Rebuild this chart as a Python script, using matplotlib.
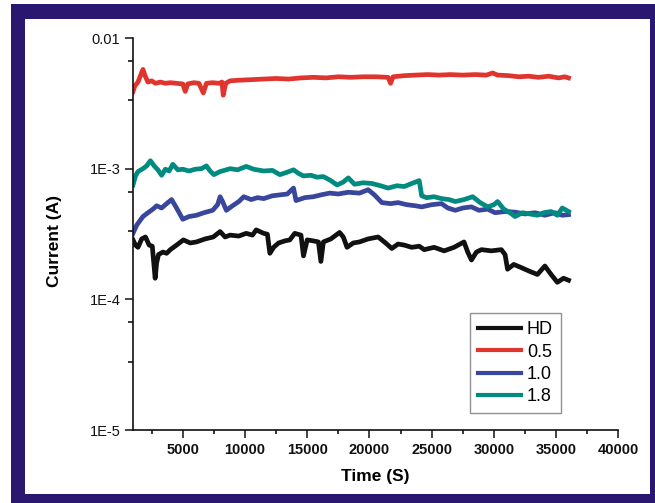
import numpy as np
import matplotlib
matplotlib.use("Agg")
import matplotlib.pyplot as plt
from matplotlib.patches import Rectangle
from matplotlib.ticker import FixedLocator, FixedFormatter, NullFormatter

plt.rcParams['font.family'] = ['Liberation Sans', 'DejaVu Sans']

# ---- data (time in s, current in A) ----
series_names = ["HD", "0.5", "1.0", "1.8"]
series_colors = ["#111111", "#e0342f", "#38469c", "#008a80"]

t_hd = [1000, 1200, 1400, 1700, 2000, 2300, 2550, 2780, 2900, 3050, 3400, 3700,
        4000, 4500, 5050, 5600, 6100, 6800, 7450, 8000, 8400, 8800, 9500, 10100,
        10600, 10900, 11500, 11800, 12000, 12300, 12700, 13200, 13600, 14000,
        14500, 14700, 15000, 15500, 15900, 16100, 16300, 16900, 17600, 17900,
        18200, 18700, 19200, 19900, 20700, 21300, 21800, 22300, 22800, 23400,
        24000, 24400, 25200, 26000, 26800, 27600, 27900, 28200, 28600, 29000,
        29800, 30600, 30900, 31100, 31600, 32200, 32800, 33500, 34100, 34600,
        35100, 35600, 36000]
i_hd = [2.85e-4, 2.6e-4, 2.5e-4, 2.9e-4, 3.0e-4, 2.6e-4, 2.55e-4, 1.45e-4, 1.9e-4,
        2.2e-4, 2.3e-4, 2.25e-4, 2.4e-4, 2.6e-4, 2.85e-4, 2.7e-4, 2.75e-4, 2.9e-4,
        3.0e-4, 3.3e-4, 3.0e-4, 3.1e-4, 3.05e-4, 3.2e-4, 3.1e-4, 3.4e-4, 3.2e-4,
        3.15e-4, 2.25e-4, 2.5e-4, 2.7e-4, 2.8e-4, 2.85e-4, 3.2e-4, 3.1e-4, 2.15e-4,
        2.85e-4, 2.8e-4, 2.75e-4, 1.95e-4, 2.75e-4, 2.9e-4, 3.25e-4, 3.0e-4, 2.5e-4,
        2.7e-4, 2.75e-4, 2.9e-4, 3.0e-4, 2.7e-4, 2.45e-4, 2.65e-4, 2.6e-4, 2.5e-4,
        2.55e-4, 2.4e-4, 2.5e-4, 2.35e-4, 2.5e-4, 2.75e-4, 2.3e-4, 2.0e-4, 2.3e-4,
        2.4e-4, 2.35e-4, 2.4e-4, 2.2e-4, 1.7e-4, 1.85e-4, 1.75e-4, 1.65e-4, 1.55e-4,
        1.8e-4, 1.55e-4, 1.35e-4, 1.45e-4, 1.4e-4]

t_05 = [1000, 1150, 1400, 1650, 1800, 1950, 2200, 2500, 2800, 3200, 3600, 4000,
        4500, 5000, 5200, 5400, 5900, 6300, 6650, 6900, 7400, 7900, 8150, 8250,
        8450, 8800, 9500, 10500, 11500, 12500, 13500, 14500, 15500, 16500, 17500,
        18500, 19500, 20500, 21500, 21700, 21900, 22800, 23700, 24700, 25600,
        26500, 27500, 28500, 29400, 29900, 30300, 31200, 32000, 32800, 33600,
        34400, 35200, 35700, 36000]
i_05 = [3.9e-3, 4.3e-3, 4.6e-3, 5.3e-3, 5.75e-3, 5.2e-3, 4.6e-3, 4.7e-3, 4.5e-3,
        4.6e-3, 4.5e-3, 4.55e-3, 4.5e-3, 4.45e-3, 3.9e-3, 4.45e-3, 4.55e-3, 4.5e-3,
        3.8e-3, 4.5e-3, 4.55e-3, 4.5e-3, 4.6e-3, 3.65e-3, 4.5e-3, 4.7e-3, 4.75e-3,
        4.8e-3, 4.85e-3, 4.9e-3, 4.85e-3, 4.95e-3, 5.0e-3, 4.95e-3, 5.05e-3, 5.0e-3,
        5.05e-3, 5.05e-3, 5.0e-3, 4.5e-3, 5.05e-3, 5.15e-3, 5.2e-3, 5.25e-3, 5.2e-3,
        5.25e-3, 5.2e-3, 5.25e-3, 5.2e-3, 5.4e-3, 5.2e-3, 5.15e-3, 5.05e-3, 5.1e-3,
        5.0e-3, 5.1e-3, 4.95e-3, 5.05e-3, 4.95e-3]

t_10 = [1000, 1300, 1800, 2200, 2600, 2900, 3300, 3700, 4100, 4500, 5000, 5500,
        6100, 6700, 7400, 7800, 8000, 8200, 8500, 9000, 9500, 9900, 10500, 11000,
        11500, 12200, 12800, 13400, 13900, 14100, 14800, 15500, 16100, 16800,
        17500, 18300, 19200, 19900, 20400, 21000, 21700, 22300, 23000, 23700,
        24200, 25000, 25800, 26300, 26900, 27500, 28200, 28800, 29500, 30100,
        30900, 31700, 32500, 33300, 34100, 34900, 35500, 36000]
i_10 = [3.2e-4, 3.7e-4, 4.3e-4, 4.6e-4, 4.9e-4, 5.2e-4, 5.0e-4, 5.4e-4, 5.8e-4,
        5.0e-4, 4.1e-4, 4.3e-4, 4.4e-4, 4.6e-4, 4.8e-4, 5.3e-4, 6.1e-4, 5.6e-4,
        4.8e-4, 5.2e-4, 5.6e-4, 6.1e-4, 5.8e-4, 6.0e-4, 5.9e-4, 6.2e-4, 6.3e-4,
        6.4e-4, 7.1e-4, 5.7e-4, 6.0e-4, 6.1e-4, 6.3e-4, 6.5e-4, 6.4e-4, 6.6e-4,
        6.5e-4, 6.9e-4, 6.3e-4, 5.5e-4, 5.4e-4, 5.5e-4, 5.3e-4, 5.2e-4, 5.1e-4,
        5.3e-4, 5.4e-4, 5.0e-4, 4.8e-4, 5.0e-4, 5.1e-4, 4.8e-4, 4.9e-4, 4.6e-4,
        4.7e-4, 4.65e-4, 4.5e-4, 4.6e-4, 4.4e-4, 4.6e-4, 4.4e-4, 4.45e-4]

t_18 = [1000, 1200, 1400, 1800, 2100, 2400, 2700, 3000, 3300, 3600, 3900, 4200,
        4600, 5000, 5500, 6000, 6500, 6900, 7200, 7500, 8000, 8500, 8800, 9400,
        10100, 10700, 11500, 12200, 12800, 13400, 13900, 14300, 14700, 15300,
        15800, 16300, 16900, 17400, 17900, 18300, 18800, 19500, 20200, 20900,
        21500, 22200, 22800, 23400, 24000, 24200, 24600, 25200, 25800, 26400,
        26900, 27600, 28300, 28900, 29500, 30000, 30300, 30800, 31300, 31700,
        32300, 32900, 33500, 34000, 34600, 35100, 35500, 36000]
i_18 = [7.5e-4, 8.8e-4, 9.5e-4, 1.0e-3, 1.05e-3, 1.15e-3, 1.05e-3, 9.8e-4, 8.9e-4,
        9.9e-4, 9.6e-4, 1.08e-3, 9.8e-4, 9.9e-4, 9.6e-4, 9.9e-4, 1.0e-3, 1.05e-3,
        9.6e-4, 9.0e-4, 9.5e-4, 9.8e-4, 1.0e-3, 9.8e-4, 1.04e-3, 9.9e-4, 9.6e-4,
        9.7e-4, 9.0e-4, 9.4e-4, 9.8e-4, 9.2e-4, 8.8e-4, 8.9e-4, 8.6e-4, 8.7e-4,
        8.1e-4, 7.5e-4, 7.9e-4, 8.5e-4, 7.6e-4, 7.8e-4, 7.7e-4, 7.4e-4, 7.1e-4,
        7.4e-4, 7.3e-4, 7.7e-4, 8.1e-4, 6.2e-4, 6.0e-4, 6.1e-4, 5.9e-4, 5.8e-4,
        5.6e-4, 5.8e-4, 6.1e-4, 5.5e-4, 5.1e-4, 5.3e-4, 5.6e-4, 4.9e-4, 4.6e-4,
        4.3e-4, 4.6e-4, 4.5e-4, 4.4e-4, 4.6e-4, 4.7e-4, 4.4e-4, 5.0e-4, 4.7e-4]

x_ticks = [5000, 10000, 15000, 20000, 25000, 30000, 35000, 40000]
y_ticks = [1e-5, 1e-4, 1e-3, 1e-2]
y_tick_labels = ["1E-5", "1E-4", "1E-3", "0.01"]

W, H = 655, 503
fig = plt.figure(figsize=(W / 100, H / 100), dpi=100)
fig.patch.set_facecolor("white")

# dark blue frame around the plot
fig.patches.append(Rectangle((11 / W, 0), 1 - 11 / W, 1 - 4 / H,
                             transform=fig.transFigure, facecolor="#2a1870",
                             edgecolor="none", zorder=-2))
fig.patches.append(Rectangle((25 / W, 9 / H), 625 / W, 475 / H,
                             transform=fig.transFigure, facecolor="white",
                             edgecolor="none", zorder=-1))

ax = fig.add_axes([133 / W, 73 / H, 485.3 / W, 392 / H])
ax.patch.set_alpha(0)

all_t = [t_hd, t_05, t_10, t_18]
all_i = [i_hd, i_05, i_10, i_18]
for t, cur, name, col in zip(all_t, all_i, series_names, series_colors):
    ax.plot(t, cur, color=col, lw=3.4, label=name, solid_joinstyle="round")

ax.set_yscale("log")
ax.set_xlim(1000, 40000)
ax.set_ylim(1e-5, 1e-2)

ax.xaxis.set_major_locator(FixedLocator(x_ticks))
ax.xaxis.set_minor_locator(FixedLocator(np.arange(2500, 40000, 5000)))
ax.yaxis.set_major_locator(FixedLocator(y_ticks))
ax.yaxis.set_major_formatter(FixedFormatter(y_tick_labels))
ax.yaxis.set_minor_locator(FixedLocator([m * 10.0 ** e for e in range(-5, -2)
                                         for m in (3.333, 6.667)]))
ax.yaxis.set_minor_formatter(NullFormatter())

for s in ("top", "right"):
    ax.spines[s].set_visible(False)
for s in ("left", "bottom"):
    ax.spines[s].set_linewidth(1.2)
    ax.spines[s].set_color("#111111")

ax.tick_params(axis="x", which="major", length=5.5, width=1.1, pad=4,
               labelsize=10.5, colors="#111111")
ax.tick_params(axis="x", which="minor", length=3, width=1.1)
ax.tick_params(axis="y", which="major", length=6, width=1.1, pad=3,
               labelsize=10.5, colors="#111111")
ax.tick_params(axis="y", which="minor", length=3.5, width=1.1)
for lab in ax.get_xticklabels():
    lab.set_fontweight("bold")

ax.set_xlabel("Time (S)", fontsize=12.5, fontweight="bold")
ax.set_ylabel("Current (A)", fontsize=12.5, fontweight="bold")
ax.xaxis.set_label_coords(0.5, -0.1)
ax.yaxis.set_label_coords(-0.146, 0.483)

leg = ax.legend(loc="upper left", bbox_to_anchor=(470 / W, 1 - 313 / H),
                bbox_transform=fig.transFigure, fontsize=13, frameon=True,
                fancybox=False, handlelength=2.4, handletextpad=0.3,
                labelspacing=0.3, borderpad=0.45, borderaxespad=0)
leg.get_frame().set_edgecolor("#777777")
leg.get_frame().set_linewidth(1.0)
for ln in leg.get_lines():
    ln.set_linewidth(3.0)

fig.savefig("out.png", dpi=100)
